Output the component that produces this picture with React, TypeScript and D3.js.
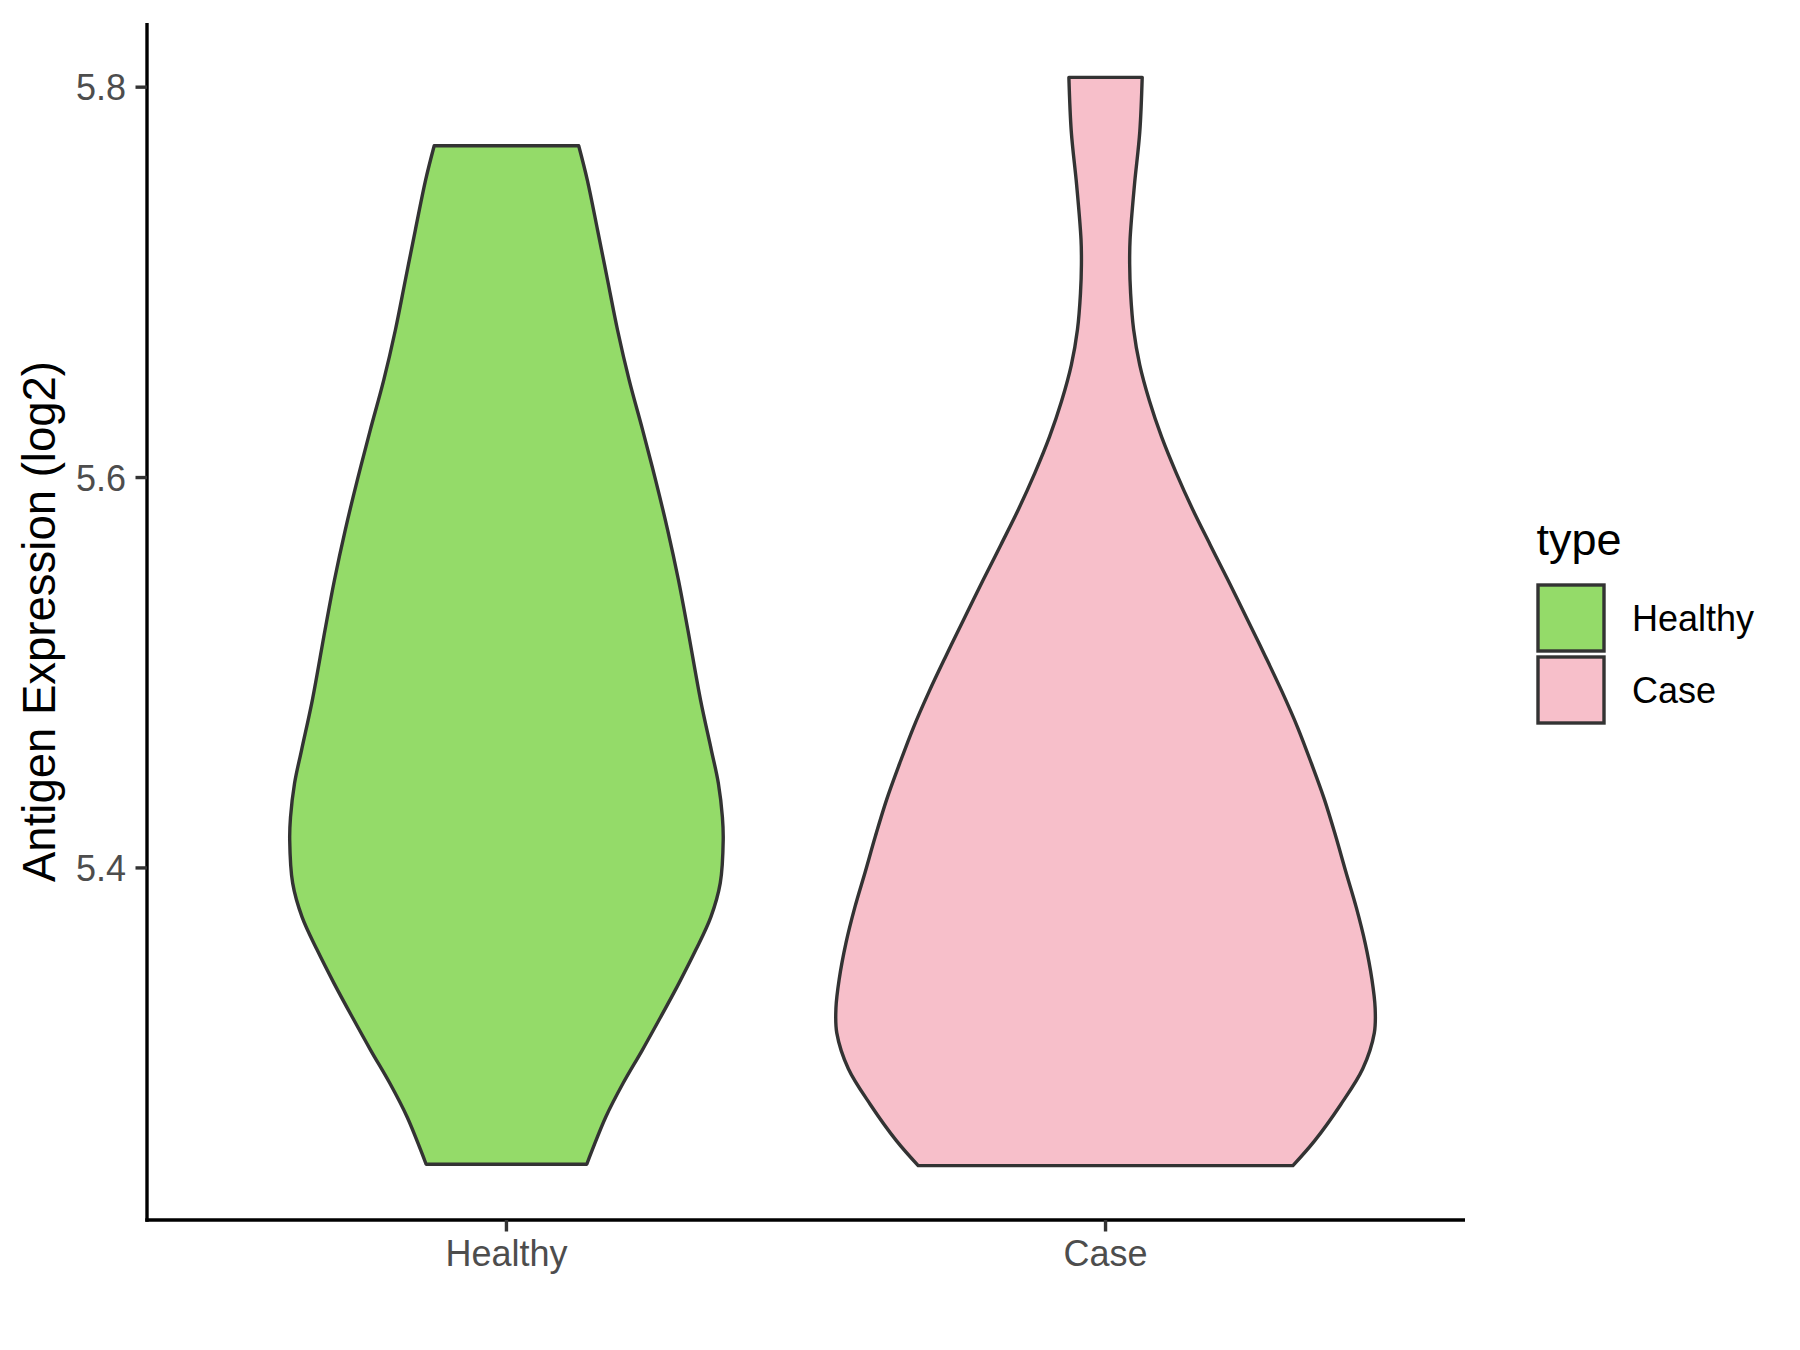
import React from "react";
import * as d3 from "d3";

const categories = ["Healthy", "Case"];
const fills = ["#94DB69", "#F7BFCA"];

// traced violin outlines: y value and relative half-width (1 = widest violin)
const healthyValues = [5.2482, 5.2554, 5.2723, 5.2898, 5.3067, 5.3236, 5.341, 5.3579, 5.3748, 5.3922, 5.4143, 5.426, 5.4434, 5.4604, 5.486, 5.5219, 5.5475, 5.5731, 5.5988, 5.6244, 5.65, 5.6756, 5.7012, 5.7268, 5.7524, 5.77];
const healthyWidths = [0.298, 0.318, 0.368, 0.433, 0.504, 0.572, 0.64, 0.702, 0.758, 0.793, 0.804, 0.801, 0.786, 0.76, 0.72, 0.673, 0.638, 0.598, 0.553, 0.505, 0.455, 0.412, 0.375, 0.338, 0.3, 0.268];

const caseValues = [5.2475, 5.2603, 5.2787, 5.2971, 5.3155, 5.3283, 5.343, 5.3615, 5.3798, 5.3982, 5.4166, 5.435, 5.4534, 5.4718, 5.4902, 5.5086, 5.527, 5.5472, 5.5656, 5.584, 5.6024, 5.6208, 5.6392, 5.6576, 5.676, 5.6944, 5.7091, 5.722, 5.7496, 5.7771, 5.805];
const caseWidths = [0.695, 0.776, 0.872, 0.954, 0.997, 1.0, 0.988, 0.963, 0.93, 0.891, 0.853, 0.812, 0.764, 0.713, 0.655, 0.592, 0.527, 0.455, 0.388, 0.322, 0.262, 0.208, 0.163, 0.127, 0.104, 0.093, 0.0895, 0.091, 0.107, 0.127, 0.136];

const yTicks = [5.4, 5.6, 5.8];
const yTitle = "Antigen Expression (log2)";
const legendTitle = "type";

const W = 1800, H = 1350;
const panel = { left: 147, right: 1465, top: 23, bottom: 1220 };
const FONT = "'Liberation Sans', Arial, Helvetica, sans-serif";

export default function App() {
  const series = [
    { name: categories[0], values: healthyValues, widths: healthyWidths, fill: fills[0] },
    { name: categories[1], values: caseValues, widths: caseWidths, fill: fills[1] },
  ];
  const allVals = [...healthyValues, ...caseValues];
  const lo = d3.min(allVals) as number, hi = d3.max(allVals) as number;
  const pad = (hi - lo) * 0.05;
  const y = d3.scaleLinear().domain([lo - pad, hi + pad]).range([panel.bottom, panel.top]);
  const x = d3.scalePoint<string>().domain(categories).range([panel.left, panel.right]).padding(0.6);
  const step = x.step();
  const halfMax = 0.45 * step;

  const paths = series.map((s) => {
    const cx = x(s.name) as number;
    const pts = s.values.map((v, i) => ({ v, w: s.widths[i] }));
    const area = d3
      .area<{ v: number; w: number }>()
      .x0((d) => cx - d.w * halfMax)
      .x1((d) => cx + d.w * halfMax)
      .y((d) => y(d.v))
      .curve(d3.curveCatmullRom.alpha(0.5));
    return { d: area(pts) as string, fill: s.fill, name: s.name };
  });

  const keySize = 72;
  const legendX = 1535;
  const legendY0 = 582;

  return (
    <svg width={W} height={H} style={{ position: "absolute", left: 0, top: 0, background: "#fff" }} fontFamily={FONT}>
      <rect x={0} y={0} width={W} height={H} fill="#ffffff" />
      {paths.map((p) => (
        <path key={p.name} d={p.d} fill={p.fill} stroke="#333333" strokeWidth={3.4} strokeLinejoin="round" />
      ))}
      {/* axes */}
      <line x1={panel.left} x2={panel.left} y1={panel.top} y2={panel.bottom + 1.7} stroke="#000" strokeWidth={3.4} />
      <line x1={panel.left - 1.7} x2={panel.right} y1={panel.bottom} y2={panel.bottom} stroke="#000" strokeWidth={3.4} />
      {yTicks.map((t) => (
        <g key={t}>
          <line x1={panel.left - 11.5} x2={panel.left} y1={y(t)} y2={y(t)} stroke="#333333" strokeWidth={3.4} />
          <text x={panel.left - 21} y={y(t)} dy="0.36em" textAnchor="end" fontSize={36} fill="#4D4D4D">
            {t.toFixed(1)}
          </text>
        </g>
      ))}
      {categories.map((c) => (
        <g key={c}>
          <line x1={x(c)} x2={x(c)} y1={panel.bottom} y2={panel.bottom + 11.5} stroke="#333333" strokeWidth={3.4} />
          <text x={x(c)} y={1266} textAnchor="middle" fontSize={36} fill="#4D4D4D">
            {c}
          </text>
        </g>
      ))}
      <text
        transform={`translate(55, ${(panel.top + panel.bottom) / 2}) rotate(-90)`}
        textAnchor="middle"
        fontSize={45.5}
        fill="#000"
      >
        {yTitle}
      </text>
      {/* legend */}
      <text x={legendX + 1.5} y={555} fontSize={45} fill="#000">
        {legendTitle}
      </text>
      {series.map((s, i) => (
        <g key={s.name}>
          <rect
            x={legendX + 3}
            y={legendY0 + i * keySize + 3}
            width={keySize - 6}
            height={keySize - 6}
            fill={s.fill}
            stroke="#333333"
            strokeWidth={3.4}
          />
          <text x={1632} y={legendY0 + i * keySize + keySize / 2} dy="0.36em" fontSize={36} fill="#000">
            {s.name}
          </text>
        </g>
      ))}
    </svg>
  );
}
